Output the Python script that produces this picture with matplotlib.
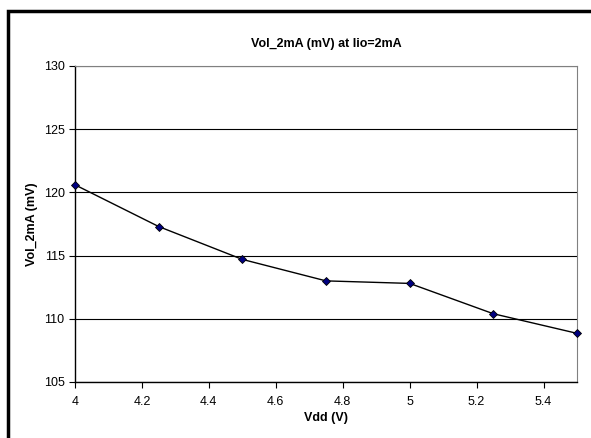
import matplotlib
matplotlib.use("Agg")
import matplotlib.pyplot as plt
from matplotlib.patches import Rectangle

plt.rcParams['font.family'] = ['Liberation Sans', 'DejaVu Sans']

vdd = [4.0, 4.25, 4.5, 4.75, 5.0, 5.25, 5.5]
vol = [120.6, 117.3, 114.7, 113.0, 112.8, 110.4, 108.85]

x_ticks = [4, 4.2, 4.4, 4.6, 4.8, 5, 5.2, 5.4]
x_labels = ['4', '4.2', '4.4', '4.6', '4.8', '5', '5.2', '5.4']
y_ticks = [105, 110, 115, 120, 125, 130]

fig = plt.figure(figsize=(5.91, 4.38), dpi=100)
ax = fig.add_axes([75 / 591, 56 / 438, 502 / 591, 316 / 438])

# chart border (cut off on the right and at the bottom)
fig.patches.append(Rectangle((8 / 591, -0.05), 1.0, (438 - 11) / 438 + 0.05,
                             transform=fig.transFigure, fill=False,
                             edgecolor='black', linewidth=2.5))

ax.plot(vdd, vol, color='black', linewidth=1, marker='D', markersize=4.5,
        markerfacecolor='#000080', markeredgecolor='black', markeredgewidth=0.6,
        clip_on=False, zorder=3)

ax.set_xlim(4, 5.5)
ax.set_ylim(105, 130)
ax.set_xticks(x_ticks)
ax.set_xticklabels(x_labels)
ax.set_yticks(y_ticks)
ax.yaxis.grid(True, color='black', linewidth=0.8)
ax.set_axisbelow(True)

for s in ['top', 'right']:
    ax.spines[s].set_color('#808080')
for s in ['left', 'bottom']:
    ax.spines[s].set_color('black')
    ax.spines[s].set_linewidth(1)

ax.tick_params(direction='out', length=4, width=0.8, labelsize=9)
ax.tick_params(axis='x', pad=6)

ax.set_title('Vol_2mA (mV) at Iio=2mA', fontsize=9, fontweight='bold', pad=14)
ax.set_xlabel('Vdd (V)', fontsize=9, fontweight='bold', labelpad=3)
ax.set_ylabel('Vol_2mA (mV)', fontsize=9, fontweight='bold', labelpad=4)

fig.savefig('out.png', dpi=100)
